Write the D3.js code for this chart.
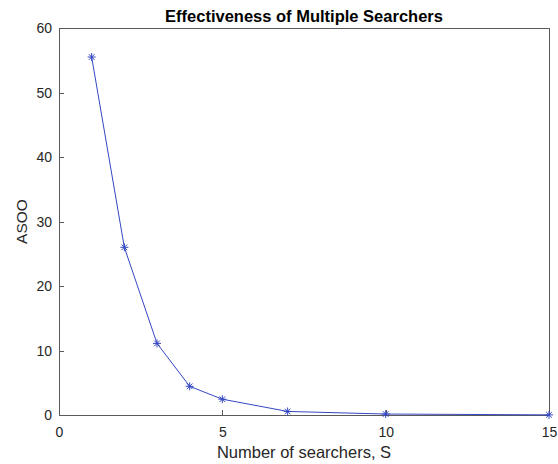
<!DOCTYPE html>
<html>
<head>
<meta charset="utf-8">
<script src="https://cdn.jsdelivr.net/npm/d3@7"></script>
<style>
  html, body { margin: 0; padding: 0; background: #fff; }
  svg { display: block; font-family: "Liberation Sans", Arial, Helvetica, sans-serif; }
</style>
</head>
<body>
<svg id="chart" width="558" height="464"></svg>
<script>
// Number of searchers and the resulting ASOO
const searchers = [1, 2, 3, 4, 5, 7, 10, 15];
const asoo = [55.5, 26, 11.1, 4.45, 2.45, 0.55, 0.15, 0.02];
const xTicks = [0, 5, 10, 15];
const yTicks = [0, 10, 20, 30, 40, 50, 60];
const titleText = "Effectiveness of Multiple Searchers";
const xLabel = "Number of searchers, S";
const yLabel = "ASOO";

const svg = d3.select("#chart");
const m = { left: 59, right: 549, top: 28, bottom: 415 };
const axisColor = "#5a5a5a";
const lineColor = "#3447c4";

const x = d3.scaleLinear().domain([0, 15]).range([m.left, m.right]);
const y = d3.scaleLinear().domain([0, 60]).range([m.bottom, m.top]);

// Box
svg.append("rect")
  .attr("x", m.left).attr("y", m.top)
  .attr("width", m.right - m.left).attr("height", m.bottom - m.top)
  .attr("fill", "none").attr("stroke", axisColor).attr("stroke-width", 1)
  .attr("shape-rendering", "crispEdges");

// Axes with inward ticks
const xAxis = svg.append("g")
  .attr("transform", `translate(0,${m.bottom})`)
  .call(d3.axisBottom(x).tickValues(xTicks).tickSizeInner(-5).tickSizeOuter(0).tickPadding(12));
const yAxis = svg.append("g")
  .attr("transform", `translate(${m.left},0)`)
  .call(d3.axisLeft(y).tickValues(yTicks).tickSizeInner(-5).tickSizeOuter(0).tickPadding(7));

[xAxis, yAxis].forEach(g => {
  g.select(".domain").remove();
  g.selectAll(".tick line").attr("stroke", axisColor).attr("shape-rendering", "crispEdges");
  g.selectAll(".tick text").attr("fill", "#262626").attr("font-size", 14)
    .attr("font-family", "\"Liberation Sans\", Arial, sans-serif");
});
yAxis.selectAll(".tick text").attr("dy", "0.35em");

// Data line
svg.append("path")
  .datum(searchers.map((s, i) => [s, asoo[i]]))
  .attr("fill", "none").attr("stroke", lineColor).attr("stroke-width", 1)
  .attr("d", d3.line().x(d => x(d[0])).y(d => y(d[1])));

// Asterisk markers
const star = svg.append("g").selectAll("g")
  .data(searchers.map((s, i) => [s, asoo[i]]))
  .join("g")
  .attr("transform", d => `translate(${x(d[0])},${y(d[1])})`);
const r = 4;
star.append("path")
  .attr("d", `M${-r},0H${r}M0,${-r}V${r}M${-r*0.7},${-r*0.7}L${r*0.7},${r*0.7}M${-r*0.7},${r*0.7}L${r*0.7},${-r*0.7}`)
  .attr("stroke", lineColor).attr("stroke-width", 1).attr("fill", "none");

// Title and labels
svg.append("text")
  .attr("x", (m.left + m.right) / 2).attr("y", 22)
  .attr("text-anchor", "middle").attr("font-size", 16.5).attr("font-weight", "bold")
  .attr("fill", "#000").text(titleText);

svg.append("text")
  .attr("x", (m.left + m.right) / 2).attr("y", 458)
  .attr("text-anchor", "middle").attr("font-size", 16.5)
  .attr("fill", "#262626").text(xLabel);

svg.append("text")
  .attr("transform", `translate(26.5,${(m.top + m.bottom) / 2}) rotate(-90)`)
  .attr("text-anchor", "middle").attr("font-size", 15.5)
  .attr("fill", "#262626").text(yLabel);
</script>
</body>
</html>
